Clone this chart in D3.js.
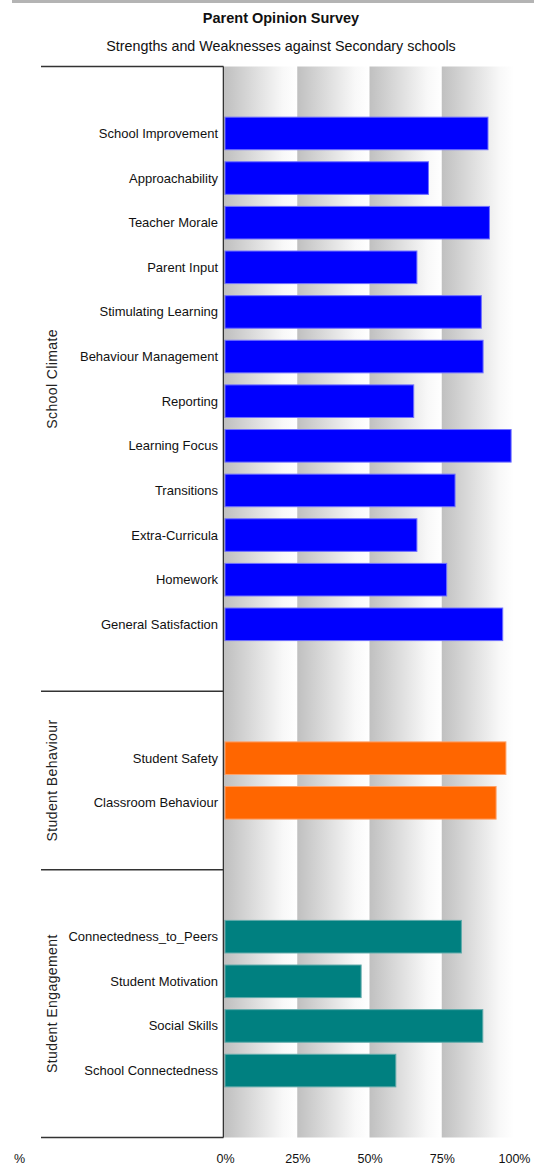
<!DOCTYPE html>
<html>
<head>
<meta charset="utf-8">
<script src="https://cdn.jsdelivr.net/npm/d3@7"></script>
<style>
  html, body { margin: 0; padding: 0; background: #fff; }
  svg { display: block; font-family: "Liberation Sans", Arial, sans-serif; }
</style>
</head>
<body>
<svg id="chart" width="534" height="1167"></svg>
<script>
// ---- data ----
const title = "Parent Opinion Survey";
const subtitle = "Strengths and Weaknesses against Secondary schools";

const groupNames = ["School Climate", "Student Behaviour", "Student Engagement"];

const climateCategories = [
  "School Improvement", "Approachability", "Teacher Morale", "Parent Input",
  "Stimulating Learning", "Behaviour Management", "Reporting", "Learning Focus",
  "Transitions", "Extra-Curricula", "Homework", "General Satisfaction"
];
const climateValues = [91, 70.4, 91.5, 66.4, 88.7, 89.3, 65.3, 99, 79.6, 66.4, 76.7, 96.1];

const behaviourCategories = ["Student Safety", "Classroom Behaviour"];
const behaviourValues = [97.2, 93.8];

const engagementCategories = [
  "Connectedness_to_Peers", "Student Motivation", "Social Skills", "School Connectedness"
];
const engagementValues = [81.8, 47.1, 89.2, 59.1];

const tickValues = [0, 25, 50, 75, 100];
const tickLabels = ["0%", "25%", "50%", "75%", "100%"];

const groupFill = ["#0000ff", "#ff6600", "#008080"];
const groupStroke = ["#7070ff", "#ffa066", "#60aaaa"];

// ---- layout ----
const svg = d3.select("#chart");
const W = 534, H = 1167;
const plotLeft = 225, plotRight = 514, plotTop = 66.5, plotBottom = 1137.5;
const frameLeft = 41, axisX = 223.5;

// one slot list: an empty slot before and after each group's categories
const groupData = [
  { name: groupNames[0], cats: climateCategories, vals: climateValues },
  { name: groupNames[1], cats: behaviourCategories, vals: behaviourValues },
  { name: groupNames[2], cats: engagementCategories, vals: engagementValues }
];
const slots = [];
const bars = [];
groupData.forEach((g, gi) => {
  g.first = slots.length;
  slots.push("pad-top-" + gi);
  g.cats.forEach((c, i) => {
    const key = gi + ":" + c;
    slots.push(key);
    bars.push({ key, label: c, value: g.vals[i], group: gi });
  });
  slots.push("pad-bottom-" + gi);
  g.last = slots.length - 1;
});

const x = d3.scaleLinear().domain([0, 100]).range([plotLeft, plotRight]);
const y = d3.scaleBand().domain(slots).range([plotTop, plotBottom])
  .paddingInner(0.27).paddingOuter(0.135);
const step = y.step();

// ---- background gradient bands ----
const defs = svg.append("defs");
const grad = defs.append("linearGradient").attr("id", "bandGrad")
  .attr("x1", "0%").attr("x2", "100%").attr("y1", "0%").attr("y2", "0%");
grad.append("stop").attr("offset", "0%").attr("stop-color", "#c0c0c0");
grad.append("stop").attr("offset", "80%").attr("stop-color", "#f8f8f8");
grad.append("stop").attr("offset", "100%").attr("stop-color", "#ffffff");

svg.append("g").selectAll("rect")
  .data(tickValues.slice(0, -1))
  .join("rect")
  .attr("x", d => x(d))
  .attr("width", (d, i) => x(tickValues[i + 1]) - x(d))
  .attr("y", plotTop)
  .attr("height", plotBottom - plotTop)
  .attr("fill", "url(#bandGrad)");

// thin rule along the very top
svg.append("rect").attr("x", 12).attr("y", 0).attr("width", W - 12).attr("height", 3)
  .attr("fill", "#b4b4b4");

// ---- titles ----
svg.append("text").attr("x", 281).attr("y", 23).attr("text-anchor", "middle")
  .attr("font-size", 14.5).attr("font-weight", "bold").attr("fill", "#111")
  .text(title);
svg.append("text").attr("x", 281).attr("y", 51).attr("text-anchor", "middle")
  .attr("font-size", 14.3).attr("fill", "#111")
  .text(subtitle);

// ---- bars ----
svg.append("g").selectAll("rect")
  .data(bars)
  .join("rect")
  .attr("x", x(0))
  .attr("y", d => y(d.key))
  .attr("width", d => x(d.value) - x(0))
  .attr("height", y.bandwidth())
  .attr("fill", d => groupFill[d.group])
  .attr("stroke", d => groupStroke[d.group])
  .attr("stroke-width", 1);

// ---- category labels ----
svg.append("g").selectAll("text")
  .data(bars)
  .join("text")
  .attr("x", 218)
  .attr("y", d => y(d.key) + y.bandwidth() / 2)
  .attr("dy", "0.35em")
  .attr("text-anchor", "end")
  .attr("font-size", 13)
  .attr("fill", "#111")
  .text(d => d.label);

// ---- group frame lines and labels ----
const lineColor = "#333";
const boundaries = [plotTop];
groupData.forEach(g => boundaries.push(y(slots[g.last]) - step * 0.135 + step));
svg.append("g").selectAll("line")
  .data(boundaries)
  .join("line")
  .attr("x1", frameLeft).attr("x2", axisX)
  .attr("y1", d => d).attr("y2", d => d)
  .attr("stroke", lineColor).attr("stroke-width", 1.6);

svg.append("line")
  .attr("x1", axisX).attr("x2", axisX)
  .attr("y1", plotTop).attr("y2", plotBottom)
  .attr("stroke", lineColor).attr("stroke-width", 1.6);

svg.append("g").selectAll("text")
  .data(groupData)
  .join("text")
  .attr("transform", (g, i) => {
    const cy = (boundaries[i] + boundaries[i + 1]) / 2;
    return `translate(57,${cy}) rotate(-90)`;
  })
  .attr("text-anchor", "middle")
  .attr("font-size", 14)
  .attr("letter-spacing", 0.4)
  .attr("fill", "#222")
  .text(g => g.name);

// ---- x axis labels ----
const axis = d3.axisBottom(x).tickValues(tickValues)
  .tickFormat((d, i) => tickLabels[i]).tickSize(0).tickPadding(0);
const axisG = svg.append("g").attr("transform", "translate(0,1154)").call(axis);
axisG.select(".domain").remove();
axisG.selectAll("text")
  .attr("font-size", 12.5)
  .attr("font-family", "Liberation Sans, Arial, sans-serif")
  .attr("fill", "#111")
  .attr("dy", "0.71em");

// stray unit mark at the far left of the axis row
svg.append("text")
  .attr("x", 25).attr("y", 1163).attr("text-anchor", "end")
  .attr("font-size", 12.5).attr("fill", "#111")
  .text("%");
</script>
</body>
</html>
